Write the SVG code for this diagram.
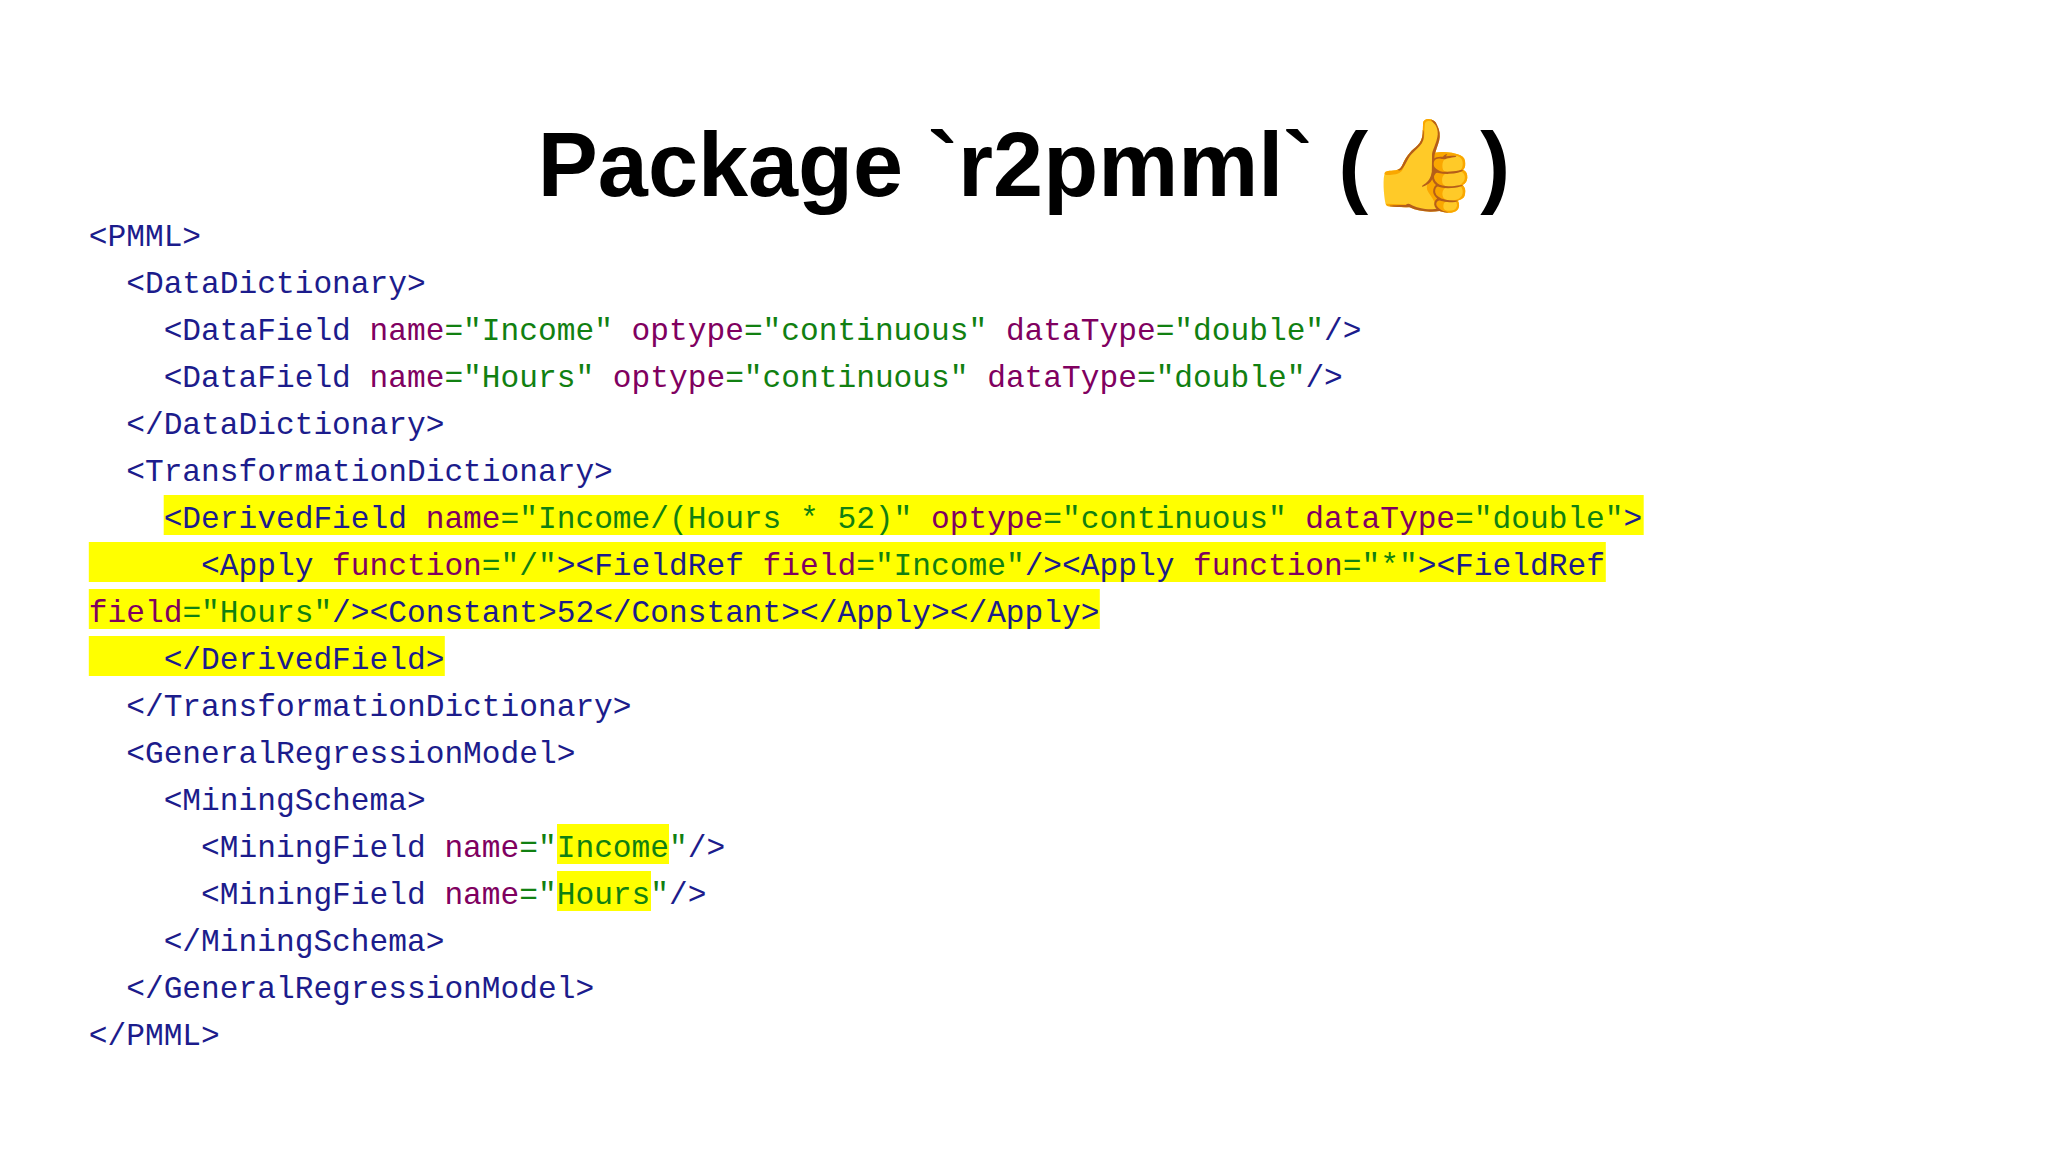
<svg xmlns="http://www.w3.org/2000/svg" width="2048" height="1152" viewBox="0 0 2048 1152">
<style>
.c{font-family:"Liberation Mono","DejaVu Sans Mono",monospace;font-size:31.2px;fill:#1c1c8c;white-space:pre}
.a{fill:#800060}.v{fill:#118011}
.h{fill:#ffff00}
.t{font-family:"Liberation Sans",Arial,sans-serif;font-weight:bold;font-size:90px;fill:#000}
</style>
<rect width="2048" height="1152" fill="#fff"/>
<g id="highlights">
<rect class="h" x="163.7" y="495" width="1480" height="40"/>
<rect class="h" x="88.8" y="542" width="1517" height="40"/>
<rect class="h" x="88.8" y="589" width="1011" height="40"/>
<rect class="h" x="88.8" y="636" width="356" height="40"/>
<rect class="h" x="557" y="824" width="112" height="40"/>
<rect class="h" x="557" y="871" width="94" height="40"/>
</g>
<g id="title"><text class="t" x="1024" y="196" text-anchor="middle">Package `r2pmml` (<tspan font-family="Noto Sans Symbols 2,DejaVu Sans,Noto Emoji,sans-serif">👍</tspan>)</text></g>
<g id="code" xml:space="preserve">
<text class="c" x="88.8" y="246">&lt;PMML&gt;</text>
<text class="c" x="88.8" y="293">  &lt;DataDictionary&gt;</text>
<text class="c" x="88.8" y="340">    &lt;DataField <tspan class="a">name</tspan><tspan class="v">="Income"</tspan> <tspan class="a">optype</tspan><tspan class="v">="continuous"</tspan> <tspan class="a">dataType</tspan><tspan class="v">="double"</tspan>/&gt;</text>
<text class="c" x="88.8" y="387">    &lt;DataField <tspan class="a">name</tspan><tspan class="v">="Hours"</tspan> <tspan class="a">optype</tspan><tspan class="v">="continuous"</tspan> <tspan class="a">dataType</tspan><tspan class="v">="double"</tspan>/&gt;</text>
<text class="c" x="88.8" y="434">  &lt;/DataDictionary&gt;</text>
<text class="c" x="88.8" y="481">  &lt;TransformationDictionary&gt;</text>
<text class="c" x="88.8" y="528">    &lt;DerivedField <tspan class="a">name</tspan><tspan class="v">="Income/(Hours * 52)"</tspan> <tspan class="a">optype</tspan><tspan class="v">="continuous"</tspan> <tspan class="a">dataType</tspan><tspan class="v">="double"</tspan>&gt;</text>
<text class="c" x="88.8" y="575">      &lt;Apply <tspan class="a">function</tspan><tspan class="v">="/"</tspan>&gt;&lt;FieldRef <tspan class="a">field</tspan><tspan class="v">="Income"</tspan>/&gt;&lt;Apply <tspan class="a">function</tspan><tspan class="v">="*"</tspan>&gt;&lt;FieldRef</text>
<text class="c" x="88.8" y="622"><tspan class="a">field</tspan><tspan class="v">="Hours"</tspan>/&gt;&lt;Constant&gt;52&lt;/Constant&gt;&lt;/Apply&gt;&lt;/Apply&gt;</text>
<text class="c" x="88.8" y="669">    &lt;/DerivedField&gt;</text>
<text class="c" x="88.8" y="716">  &lt;/TransformationDictionary&gt;</text>
<text class="c" x="88.8" y="763">  &lt;GeneralRegressionModel&gt;</text>
<text class="c" x="88.8" y="810">    &lt;MiningSchema&gt;</text>
<text class="c" x="88.8" y="857">      &lt;MiningField <tspan class="a">name</tspan><tspan class="v">="Income"</tspan>/&gt;</text>
<text class="c" x="88.8" y="904">      &lt;MiningField <tspan class="a">name</tspan><tspan class="v">="Hours"</tspan>/&gt;</text>
<text class="c" x="88.8" y="951">    &lt;/MiningSchema&gt;</text>
<text class="c" x="88.8" y="998">  &lt;/GeneralRegressionModel&gt;</text>
<text class="c" x="88.8" y="1045">&lt;/PMML&gt;</text>
</g>
</svg>
